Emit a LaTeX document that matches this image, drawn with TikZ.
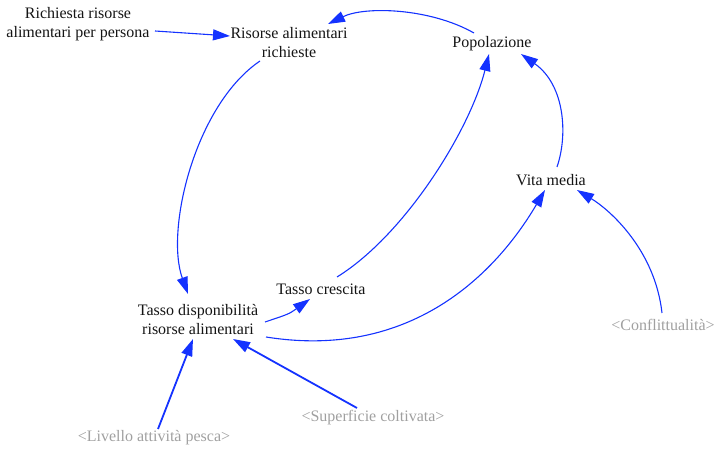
\documentclass[tikz,border=0pt]{standalone}
\usepackage{fontspec}
\setmainfont{Liberation Serif}
\usetikzlibrary{arrows.meta}
\definecolor{linkblue}{RGB}{20,50,255}
\definecolor{ghost}{RGB}{160,160,160}
\definecolor{ink}{RGB}{20,20,20}
\begin{document}
\begin{tikzpicture}[x=1pt,y=-1pt,
  var/.style={align=center,inner sep=0pt,text=ink,font=\fontsize{16}{19}\selectfont},
  shadow/.style={var,text=ghost},
  link/.style={draw=linkblue,line width=1.1pt,-{Triangle[length=17pt,width=11pt]}},
  thicklink/.style={link,line width=1.8pt}]
\useasboundingbox (0,0) rectangle (716,449);
\node[var] (req) at (78,24) {Richiesta risorse\\alimentari per persona};
\node[var] (rar) at (289,43) {Risorse alimentari\\richieste};
\node[var] (pop) at (492,44) {Popolazione};
\node[var] (vita) at (551,180) {Vita media};
\node[var] (tc) at (321,289) {Tasso crescita};
\node[var] (tdra) at (198,320) {Tasso disponibilità\\risorse alimentari};
\node[shadow] (conf) at (663,325) {<Conflittualità>};
\node[shadow] (sup) at (373,418) {<Superficie coltivata>};
\node[shadow] (liv) at (154,438) {<Livello attività pesca>};

\draw[link] ([shift={(77,7)}]req.center) -- ([shift={(-59,-7)}]rar.center);
\draw[link] ([shift={(-18,-11)}]pop.center) .. controls (430,8) and (365,6) .. ([shift={(39,-19)}]rar.center);
\draw[link] ([shift={(-29,18)}]rar.center) .. controls (195,105) and (165,230) .. ([shift={(-10,-26)}]tdra.center);
\draw[link] ([shift={(67,2)}]tdra.center) .. controls (289,314) .. ([shift={(-11,10)}]tc.center);
\draw[link] ([shift={(16,-12)}]tc.center) .. controls (405,235) and (470,130) .. ([shift={(-3,10)}]pop.center);
\draw[link] ([shift={(68,17)}]tdra.center) .. controls (410,360) and (495,275) .. ([shift={(-6,10)}]vita.center);
\draw[link] ([shift={(6,-13)}]vita.center) .. controls (568,135) and (565,85) .. ([shift={(29,10)}]pop.center);
\draw[link] ([shift={(-1,-12)}]conf.center) .. controls (655,250) and (610,210) .. ([shift={(26,10)}]vita.center);
\draw[thicklink] ([shift={(-16,-10)}]sup.center) -- ([shift={(35,19)}]tdra.center);
\draw[thicklink] ([shift={(4,-9)}]liv.center) -- ([shift={(-5,19)}]tdra.center);
\end{tikzpicture}
\end{document}
